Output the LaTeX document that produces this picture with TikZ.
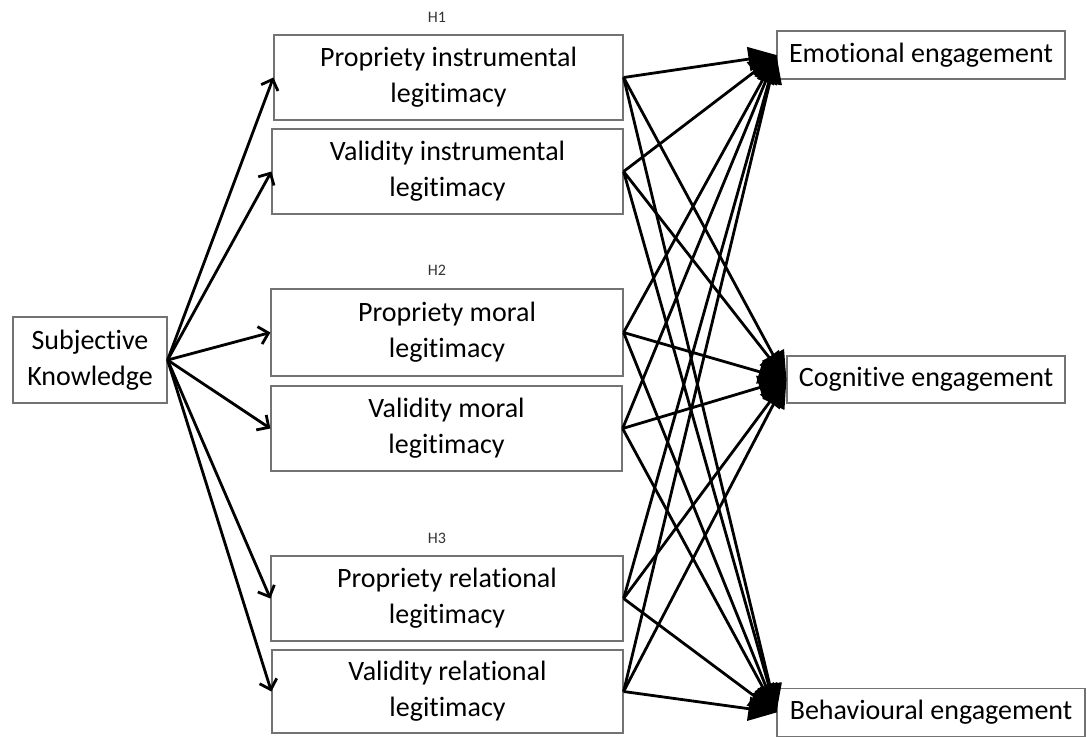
\documentclass[tikz,border=0pt]{standalone}
\usepackage{fontspec}
\setmainfont{Carlito}[Ligatures=NoCommon]
\usetikzlibrary{arrows.meta}
\begin{document}
\begin{tikzpicture}[x=0.5pt,y=-0.5pt,
    every node/.style={font=\fontsize{14}{18}\selectfont,align=center},
    box/.style={draw=black!55,line width=0.6pt,inner sep=0pt},
    hyp/.style={font=\fontsize{8}{9}\selectfont,text=black!80},
    outarrow/.style={line width=1.4pt,-{Straight Barb[length=4.5pt,width=9pt]}},
    inarrow/.style={line width=1.4pt,-{Triangle[length=14pt,width=12pt]}}]
      \useasboundingbox (0,0) rectangle (1087,736);

      \node[box,minimum width=77pt,minimum height=43pt] (sk) at (90,360) {Subjective\\Knowledge};

      \node[hyp] (h1) at (437,17) {H1};
      \node[hyp] (h2) at (437,270) {H2};
      \node[hyp] (h3) at (437,538) {H3};

      \node[box,minimum width=174.5pt,minimum height=42.5pt] (pil) at (448.5,77.5) {Propriety instrumental\\legitimacy};
      \node[box,minimum width=175.5pt,minimum height=42.5pt] (vil) at (447.5,171.5) {Validity instrumental\\legitimacy};
      \node[box,minimum width=176pt,minimum height=43.5pt] (pml) at (447,332.5) {Propriety moral\\legitimacy};
      \node[box,minimum width=175.5pt,minimum height=42.5pt] (vml) at (446.5,428.5) {Validity moral\\legitimacy};
      \node[box,minimum width=176pt,minimum height=42.5pt] (prl) at (447,598.5) {Propriety relational\\legitimacy};
      \node[box,minimum width=175.5pt,minimum height=41.5pt] (vrl) at (447.5,691.5) {Validity relational\\legitimacy};

      \node[box,minimum width=144pt,minimum height=24pt] (emo) at (921,55) {Emotional engagement};
      \node[box,minimum width=139pt,minimum height=23.5pt] (cog) at (926,379.5) {Cognitive engagement};
      \node[box,minimum width=154pt,minimum height=24pt] (beh) at (931,712.5) {Behavioural engagement};

      \draw[outarrow] (sk.east) -- (pil.west);
      \draw[outarrow] (sk.east) -- (vil.west);
      \draw[outarrow] (sk.east) -- (pml.west);
      \draw[outarrow] (sk.east) -- (vml.west);
      \draw[outarrow] (sk.east) -- (prl.west);
      \draw[outarrow] (sk.east) -- (vrl.west);

      \draw[inarrow] (pil.east) -- (emo.west);
      \draw[inarrow] (pil.east) -- (cog.west);
      \draw[inarrow] (pil.east) -- (beh.west);

      \draw[inarrow] (vil.east) -- (emo.west);
      \draw[inarrow] (vil.east) -- (cog.west);
      \draw[inarrow] (vil.east) -- (beh.west);

      \draw[inarrow] (pml.east) -- (emo.west);
      \draw[inarrow] (pml.east) -- (cog.west);
      \draw[inarrow] (pml.east) -- (beh.west);

      \draw[inarrow] (vml.east) -- (emo.west);
      \draw[inarrow] (vml.east) -- (cog.west);
      \draw[inarrow] (vml.east) -- (beh.west);

      \draw[inarrow] (prl.east) -- (emo.west);
      \draw[inarrow] (prl.east) -- (cog.west);
      \draw[inarrow] (prl.east) -- (beh.west);

      \draw[inarrow] (vrl.east) -- (emo.west);
      \draw[inarrow] (vrl.east) -- (cog.west);
      \draw[inarrow] (vrl.east) -- (beh.west);

    \end{tikzpicture}
\end{document}
